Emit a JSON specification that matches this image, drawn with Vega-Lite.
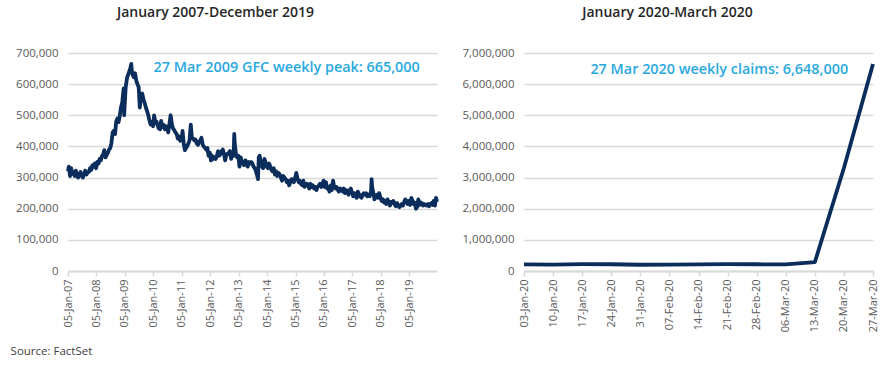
{
  "$schema": "https://vega.github.io/schema/vega-lite/v6.json",
  "padding": {"left": 10, "top": 6, "right": 10, "bottom": 5},
  "background": "white",
  "title": {"text": "Source: FactSet", "orient": "bottom", "anchor": "start", "fontSize": 11.5, "fontWeight": "normal", "color": "#404040", "font": "Open Sans", "offset": 14, "dx": -5},
  "config": {
    "view": {"stroke": null},
    "font": "Open Sans",
    "title": {"fontSize": 14, "fontWeight": 600, "color": "#262626", "font": "Open Sans", "offset": 27},
    "axisY": {"domain": false, "ticks": false, "grid": true, "gridColor": "#D9D9D9", "gridWidth": 1.5, "labelPadding": 10, "labelColor": "#595959", "labelFontSize": 11.5, "labelFont": "Open Sans", "title": null, "labelOverlap": false},
    "axisX": {"grid": false, "domain": true, "domainColor": "#D9D9D9", "domainWidth": 2, "ticks": true, "tickColor": "#D9D9D9", "tickSize": 5, "tickWidth": 1.5, "labelAngle": -90, "labelPadding": 3, "labelColor": "#595959", "labelFontSize": 11, "labelFont": "Open Sans", "title": null, "labelOverlap": false}
  },
  "datasets": {
    "gfc": [
      {"d":"2007-01-05","v":320000},{"d":"2007-01-15","v":335000},{"d":"2007-02-01","v":305000},{"d":"2007-02-15","v":330000},{"d":"2007-03-01","v":312000},{"d":"2007-03-15","v":318000},{"d":"2007-04-01","v":305000},{"d":"2007-04-15","v":322000},{"d":"2007-05-01","v":308000},{"d":"2007-05-15","v":300000},{"d":"2007-06-01","v":312000},{"d":"2007-06-15","v":318000},{"d":"2007-07-01","v":305000},{"d":"2007-07-15","v":300000},{"d":"2007-08-01","v":312000},{"d":"2007-08-15","v":322000},{"d":"2007-09-01","v":310000},{"d":"2007-09-15","v":318000},{"d":"2007-10-01","v":318000},{"d":"2007-10-15","v":330000},{"d":"2007-11-01","v":325000},{"d":"2007-11-15","v":340000},{"d":"2007-12-01","v":335000},{"d":"2007-12-15","v":345000},
      {"d":"2008-01-01","v":330000},{"d":"2008-01-15","v":350000},{"d":"2008-02-01","v":345000},{"d":"2008-02-15","v":360000},{"d":"2008-03-01","v":355000},{"d":"2008-03-15","v":368000},{"d":"2008-04-01","v":375000},{"d":"2008-04-15","v":388000},{"d":"2008-05-01","v":365000},{"d":"2008-05-15","v":372000},{"d":"2008-06-01","v":380000},{"d":"2008-06-15","v":390000},{"d":"2008-07-01","v":395000},{"d":"2008-07-15","v":410000},{"d":"2008-08-01","v":445000},{"d":"2008-08-15","v":450000},{"d":"2008-09-01","v":440000},{"d":"2008-09-15","v":480000},{"d":"2008-10-01","v":490000},{"d":"2008-10-15","v":478000},{"d":"2008-11-01","v":500000},{"d":"2008-11-15","v":525000},{"d":"2008-12-01","v":540000},{"d":"2008-12-15","v":575000},{"d":"2008-12-20","v":586000},{"d":"2008-12-27","v":500000},
      {"d":"2009-01-01","v":530000},{"d":"2009-01-15","v":590000},{"d":"2009-02-01","v":620000},{"d":"2009-02-15","v":630000},{"d":"2009-03-01","v":640000},{"d":"2009-03-15","v":650000},{"d":"2009-03-27","v":665000},{"d":"2009-04-05","v":640000},{"d":"2009-04-15","v":630000},{"d":"2009-05-01","v":622000},{"d":"2009-05-15","v":635000},{"d":"2009-06-01","v":610000},{"d":"2009-06-15","v":600000},{"d":"2009-07-01","v":590000},{"d":"2009-07-15","v":525000},{"d":"2009-08-01","v":565000},{"d":"2009-08-15","v":570000},{"d":"2009-09-01","v":550000},{"d":"2009-09-15","v":540000},{"d":"2009-10-01","v":525000},{"d":"2009-10-15","v":515000},{"d":"2009-11-01","v":500000},{"d":"2009-11-15","v":485000},{"d":"2009-12-01","v":470000},{"d":"2009-12-15","v":478000},
      {"d":"2010-01-01","v":465000},{"d":"2010-01-15","v":500000},{"d":"2010-02-01","v":475000},{"d":"2010-02-15","v":480000},{"d":"2010-03-01","v":468000},{"d":"2010-03-15","v":458000},{"d":"2010-04-01","v":455000},{"d":"2010-04-15","v":482000},{"d":"2010-05-01","v":462000},{"d":"2010-05-15","v":470000},{"d":"2010-06-01","v":455000},{"d":"2010-06-15","v":465000},{"d":"2010-07-01","v":458000},{"d":"2010-07-15","v":445000},{"d":"2010-08-01","v":475000},{"d":"2010-08-15","v":500000},{"d":"2010-09-01","v":470000},{"d":"2010-09-15","v":458000},{"d":"2010-10-01","v":452000},{"d":"2010-10-15","v":445000},{"d":"2010-11-01","v":440000},{"d":"2010-11-15","v":425000},{"d":"2010-12-01","v":432000},{"d":"2010-12-15","v":418000},
      {"d":"2011-01-01","v":420000},{"d":"2011-01-15","v":450000},{"d":"2011-02-01","v":405000},{"d":"2011-02-15","v":388000},{"d":"2011-03-01","v":395000},{"d":"2011-03-15","v":400000},{"d":"2011-04-01","v":410000},{"d":"2011-04-15","v":420000},{"d":"2011-05-01","v":470000},{"d":"2011-05-15","v":428000},{"d":"2011-06-01","v":425000},{"d":"2011-06-15","v":420000},{"d":"2011-07-01","v":422000},{"d":"2011-07-15","v":410000},{"d":"2011-08-01","v":405000},{"d":"2011-08-15","v":415000},{"d":"2011-09-01","v":420000},{"d":"2011-09-15","v":428000},{"d":"2011-10-01","v":405000},{"d":"2011-10-15","v":400000},{"d":"2011-11-01","v":395000},{"d":"2011-11-15","v":390000},{"d":"2011-12-01","v":395000},{"d":"2011-12-15","v":370000},
      {"d":"2012-01-01","v":380000},{"d":"2012-01-15","v":355000},{"d":"2012-02-01","v":370000},{"d":"2012-02-15","v":360000},{"d":"2012-03-01","v":365000},{"d":"2012-03-15","v":360000},{"d":"2012-04-01","v":370000},{"d":"2012-04-15","v":385000},{"d":"2012-05-01","v":370000},{"d":"2012-05-15","v":375000},{"d":"2012-06-01","v":385000},{"d":"2012-06-15","v":390000},{"d":"2012-07-01","v":375000},{"d":"2012-07-15","v":355000},{"d":"2012-08-01","v":375000},{"d":"2012-08-15","v":375000},{"d":"2012-09-01","v":380000},{"d":"2012-09-15","v":385000},{"d":"2012-10-01","v":360000},{"d":"2012-10-15","v":380000},{"d":"2012-11-01","v":370000},{"d":"2012-11-09","v":440000},{"d":"2012-11-15","v":410000},{"d":"2012-12-01","v":375000},{"d":"2012-12-15","v":365000},
      {"d":"2013-01-01","v":370000},{"d":"2013-01-15","v":335000},{"d":"2013-02-01","v":365000},{"d":"2013-02-15","v":350000},{"d":"2013-03-01","v":345000},{"d":"2013-03-15","v":340000},{"d":"2013-04-01","v":355000},{"d":"2013-04-15","v":350000},{"d":"2013-05-01","v":335000},{"d":"2013-05-15","v":350000},{"d":"2013-06-01","v":345000},{"d":"2013-06-15","v":350000},{"d":"2013-07-01","v":345000},{"d":"2013-07-15","v":335000},{"d":"2013-08-01","v":330000},{"d":"2013-08-15","v":320000},{"d":"2013-09-01","v":305000},{"d":"2013-09-10","v":295000},{"d":"2013-09-20","v":365000},{"d":"2013-10-01","v":370000},{"d":"2013-10-15","v":350000},{"d":"2013-11-01","v":335000},{"d":"2013-11-15","v":330000},{"d":"2013-12-01","v":360000},{"d":"2013-12-15","v":350000},
      {"d":"2014-01-01","v":335000},{"d":"2014-01-15","v":330000},{"d":"2014-02-01","v":345000},{"d":"2014-02-15","v":335000},{"d":"2014-03-01","v":325000},{"d":"2014-03-15","v":320000},{"d":"2014-04-01","v":330000},{"d":"2014-04-15","v":310000},{"d":"2014-05-01","v":320000},{"d":"2014-05-15","v":305000},{"d":"2014-06-01","v":315000},{"d":"2014-06-15","v":310000},{"d":"2014-07-01","v":300000},{"d":"2014-07-15","v":290000},{"d":"2014-08-01","v":305000},{"d":"2014-08-15","v":300000},{"d":"2014-09-01","v":295000},{"d":"2014-09-15","v":285000},{"d":"2014-10-01","v":290000},{"d":"2014-10-15","v":275000},{"d":"2014-11-01","v":285000},{"d":"2014-11-15","v":295000},{"d":"2014-12-01","v":290000},{"d":"2014-12-15","v":285000},
      {"d":"2015-01-01","v":300000},{"d":"2015-01-15","v":315000},{"d":"2015-02-01","v":295000},{"d":"2015-02-15","v":285000},{"d":"2015-03-01","v":290000},{"d":"2015-03-15","v":280000},{"d":"2015-04-01","v":275000},{"d":"2015-04-15","v":290000},{"d":"2015-05-01","v":270000},{"d":"2015-05-15","v":275000},{"d":"2015-06-01","v":280000},{"d":"2015-06-15","v":275000},{"d":"2015-07-01","v":265000},{"d":"2015-07-15","v":280000},{"d":"2015-08-01","v":270000},{"d":"2015-08-15","v":275000},{"d":"2015-09-01","v":265000},{"d":"2015-09-15","v":270000},{"d":"2015-10-01","v":260000},{"d":"2015-10-15","v":270000},{"d":"2015-11-01","v":275000},{"d":"2015-11-15","v":280000},{"d":"2015-12-01","v":270000},{"d":"2015-12-15","v":278000},
      {"d":"2016-01-01","v":290000},{"d":"2016-01-15","v":270000},{"d":"2016-02-01","v":285000},{"d":"2016-02-15","v":265000},{"d":"2016-03-01","v":270000},{"d":"2016-03-15","v":255000},{"d":"2016-04-01","v":275000},{"d":"2016-04-15","v":260000},{"d":"2016-05-01","v":290000},{"d":"2016-05-15","v":270000},{"d":"2016-06-01","v":265000},{"d":"2016-06-15","v":270000},{"d":"2016-07-01","v":260000},{"d":"2016-07-15","v":255000},{"d":"2016-08-01","v":265000},{"d":"2016-08-15","v":260000},{"d":"2016-09-01","v":255000},{"d":"2016-09-15","v":265000},{"d":"2016-10-01","v":250000},{"d":"2016-10-15","v":260000},{"d":"2016-11-01","v":255000},{"d":"2016-11-15","v":245000},{"d":"2016-12-01","v":260000},{"d":"2016-12-15","v":265000},
      {"d":"2017-01-01","v":250000},{"d":"2017-01-15","v":240000},{"d":"2017-02-01","v":250000},{"d":"2017-02-15","v":245000},{"d":"2017-03-01","v":235000},{"d":"2017-03-15","v":255000},{"d":"2017-04-01","v":245000},{"d":"2017-04-15","v":240000},{"d":"2017-05-01","v":235000},{"d":"2017-05-15","v":245000},{"d":"2017-06-01","v":250000},{"d":"2017-06-15","v":245000},{"d":"2017-07-01","v":250000},{"d":"2017-07-15","v":240000},{"d":"2017-08-01","v":245000},{"d":"2017-08-15","v":240000},{"d":"2017-09-01","v":255000},{"d":"2017-09-08","v":295000},{"d":"2017-09-15","v":270000},{"d":"2017-10-01","v":250000},{"d":"2017-10-15","v":230000},{"d":"2017-11-01","v":240000},{"d":"2017-11-15","v":245000},{"d":"2017-12-01","v":235000},{"d":"2017-12-15","v":250000},
      {"d":"2018-01-01","v":235000},{"d":"2018-01-15","v":225000},{"d":"2018-02-01","v":230000},{"d":"2018-02-15","v":220000},{"d":"2018-03-01","v":225000},{"d":"2018-03-15","v":215000},{"d":"2018-04-01","v":230000},{"d":"2018-04-15","v":220000},{"d":"2018-05-01","v":210000},{"d":"2018-05-15","v":222000},{"d":"2018-06-01","v":218000},{"d":"2018-06-15","v":225000},{"d":"2018-07-01","v":215000},{"d":"2018-07-15","v":208000},{"d":"2018-08-01","v":218000},{"d":"2018-08-15","v":212000},{"d":"2018-09-01","v":205000},{"d":"2018-09-15","v":210000},{"d":"2018-10-01","v":215000},{"d":"2018-10-15","v":210000},{"d":"2018-11-01","v":222000},{"d":"2018-11-15","v":230000},{"d":"2018-12-01","v":225000},{"d":"2018-12-15","v":215000},
      {"d":"2019-01-01","v":225000},{"d":"2019-01-15","v":212000},{"d":"2019-02-01","v":235000},{"d":"2019-02-15","v":225000},{"d":"2019-03-01","v":215000},{"d":"2019-03-15","v":220000},{"d":"2019-04-01","v":200000},{"d":"2019-04-15","v":205000},{"d":"2019-05-01","v":230000},{"d":"2019-05-15","v":212000},{"d":"2019-06-01","v":220000},{"d":"2019-06-15","v":218000},{"d":"2019-07-01","v":210000},{"d":"2019-07-15","v":215000},{"d":"2019-08-01","v":212000},{"d":"2019-08-15","v":210000},{"d":"2019-09-01","v":215000},{"d":"2019-09-15","v":208000},{"d":"2019-10-01","v":215000},{"d":"2019-10-15","v":218000},{"d":"2019-11-01","v":212000},{"d":"2019-11-15","v":225000},{"d":"2019-12-01","v":210000},{"d":"2019-12-15","v":235000},{"d":"2019-12-27","v":222000}
    ],
    "covid": [
      {"d":"2020-01-03","v":212000},{"d":"2020-01-10","v":207000},{"d":"2020-01-17","v":220000},{"d":"2020-01-24","v":216000},{"d":"2020-01-31","v":201000},{"d":"2020-02-07","v":204000},{"d":"2020-02-14","v":210000},{"d":"2020-02-21","v":219000},{"d":"2020-02-28","v":217000},{"d":"2020-03-06","v":211000},{"d":"2020-03-13","v":282000},{"d":"2020-03-20","v":3307000},{"d":"2020-03-27","v":6648000}
    ]
  },
  "hconcat": [
    {
      "width": 369,
      "height": 218,
      "title": {"text": "January 2007-December 2019", "dx": -37},
      "encoding": {
        "x": {"field": "d", "type": "temporal",
          "scale": {"type": "utc", "domain": [{"year": 2007, "month": 1, "date": 5, "utc": true}, {"year": 2019, "month": 12, "date": 27, "utc": true}]},
          "axis": {"values": [
            {"year": 2007, "month": 1, "date": 5, "utc": true},{"year": 2008, "month": 1, "date": 5, "utc": true},{"year": 2009, "month": 1, "date": 5, "utc": true},{"year": 2010, "month": 1, "date": 5, "utc": true},{"year": 2011, "month": 1, "date": 5, "utc": true},{"year": 2012, "month": 1, "date": 5, "utc": true},{"year": 2013, "month": 1, "date": 5, "utc": true},{"year": 2014, "month": 1, "date": 5, "utc": true},{"year": 2015, "month": 1, "date": 5, "utc": true},{"year": 2016, "month": 1, "date": 5, "utc": true},{"year": 2017, "month": 1, "date": 5, "utc": true},{"year": 2018, "month": 1, "date": 5, "utc": true},{"year": 2019, "month": 1, "date": 5, "utc": true}
          ], "labelExpr": "utcFormat(datum.value, '%d-%b-%y')", "labelOverlap": false}},
        "y": {"field": "v", "type": "quantitative",
          "scale": {"domain": [0, 700000]},
          "axis": {"values": [0, 100000, 200000, 300000, 400000, 500000, 600000, 700000], "format": ",.0f", "labelOverlap": false}}
      },
      "layer": [
        {
          "data": {"name": "gfc"},
          "mark": {"type": "line", "color": "#0B2D5B", "strokeWidth": 3.8, "strokeJoin": "round"}
        },
        {
          "data": {"values": [{"d": "2010-01-08", "v": 653000, "t": "27 Mar 2009 GFC weekly peak: 665,000"}]},
          "mark": {"type": "text", "align": "left", "baseline": "middle", "fontSize": 14.4, "fontWeight": 600, "font": "Open Sans", "color": "#29A9E1"},
          "encoding": {"text": {"field": "t"}}
        }
      ]
    },
    {
      "width": 349,
      "height": 218,
      "title": {"text": "January 2020-March 2020", "dx": -31},
      "encoding": {
        "x": {"field": "d", "type": "temporal",
          "scale": {"type": "utc", "domain": [{"year": 2020, "month": 1, "date": 3, "utc": true}, {"year": 2020, "month": 3, "date": 27, "utc": true}]},
          "axis": {"values": [
            {"year": 2020, "month": 1, "date": 3, "utc": true},{"year": 2020, "month": 1, "date": 10, "utc": true},{"year": 2020, "month": 1, "date": 17, "utc": true},{"year": 2020, "month": 1, "date": 24, "utc": true},{"year": 2020, "month": 1, "date": 31, "utc": true},{"year": 2020, "month": 2, "date": 7, "utc": true},{"year": 2020, "month": 2, "date": 14, "utc": true},{"year": 2020, "month": 2, "date": 21, "utc": true},{"year": 2020, "month": 2, "date": 28, "utc": true},{"year": 2020, "month": 3, "date": 6, "utc": true},{"year": 2020, "month": 3, "date": 13, "utc": true},{"year": 2020, "month": 3, "date": 20, "utc": true},{"year": 2020, "month": 3, "date": 27, "utc": true}
          ], "labelExpr": "utcFormat(datum.value, '%d-%b-%y')", "labelOverlap": false}},
        "y": {"field": "v", "type": "quantitative",
          "scale": {"domain": [0, 7000000]},
          "axis": {"values": [0, 1000000, 2000000, 3000000, 4000000, 5000000, 6000000, 7000000], "format": ",.0f", "labelOverlap": false}}
      },
      "layer": [
        {
          "data": {"name": "covid"},
          "mark": {"type": "line", "color": "#0B2D5B", "strokeWidth": 3.8, "strokeJoin": "round"}
        },
        {
          "data": {"values": [{"d": "2020-02-19", "v": 6440000, "t": "27 Mar 2020 weekly claims: 6,648,000"}]},
          "mark": {"type": "text", "align": "center", "baseline": "middle", "fontSize": 14.4, "fontWeight": 600, "font": "Open Sans", "color": "#29A9E1"},
          "encoding": {"text": {"field": "t"}}
        }
      ]
    }
  ],
  "spacing": 23
}
